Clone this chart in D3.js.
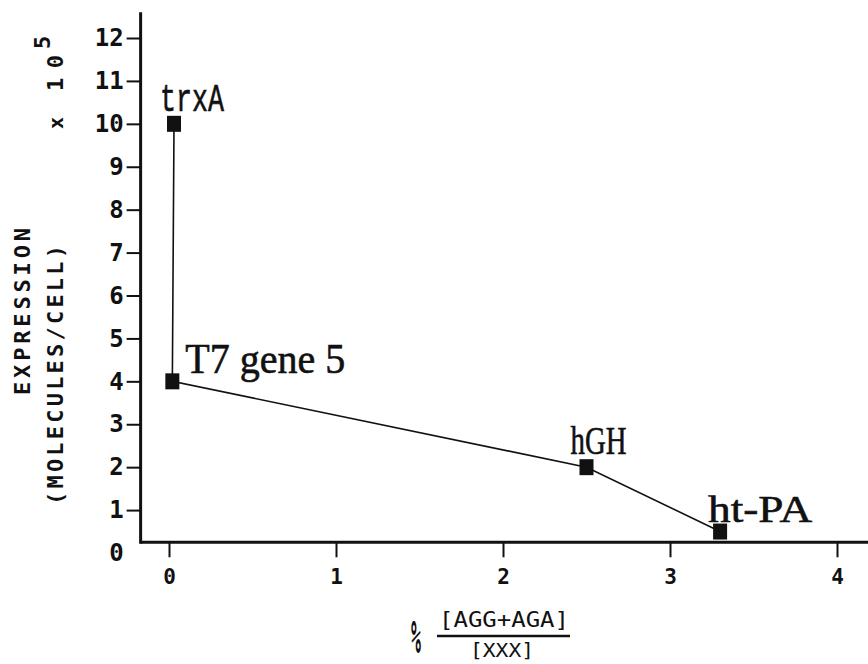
<!DOCTYPE html>
<html>
<head>
<meta charset="utf-8">
<script src="https://cdn.jsdelivr.net/npm/d3@7"></script>
<style>
  body { margin: 0; background: #fff; }
  svg { display: block; }
</style>
</head>
<body>
<svg width="868" height="664"></svg>
<script>
// data
var genes = ["trxA", "T7 gene 5", "hGH", "ht-PA"];
var ratio = [0.03, 0.02, 2.5, 3.3];          // % [AGG+AGA]/[XXX]
var expression = [10, 4, 2, 0.5];            // molecules/cell x 10^5
var xTicks = [0, 1, 2, 3, 4];
var yTicks = [0, 1, 2, 3, 4, 5, 6, 7, 8, 9, 10, 11, 12];

var svg = d3.select("svg");

var x = d3.scaleLinear().domain([0, 4]).range([169, 837]);
var y = d3.scaleLinear().domain([0, 12]).range([553, 38]);

// where the axes cross (the x axis sits a little above zero in the original)
var xAxisY = y(0.25), yAxisX = x(-0.17);

var monoBold = "'DejaVu Sans Mono', monospace";

// y axis
var gy = svg.append("g")
    .attr("transform", "translate(" + yAxisX + ",0)")
    .call(d3.axisLeft(y).tickValues(yTicks).tickFormat(d3.format("d"))
      .tickSize(14).tickPadding(3).tickSizeOuter(0));
gy.select(".domain").remove();
gy.selectAll(".tick line").attr("stroke", "#111").attr("stroke-width", 2)
    .filter(function(d) { return d === 0; }).remove();
gy.selectAll(".tick text")
    .style("font-family", monoBold).style("font-weight", "bold")
    .style("font-size", "24px").attr("fill", "#111");

// x axis
var gx = svg.append("g")
    .attr("transform", "translate(0," + xAxisY + ")")
    .call(d3.axisBottom(x).tickValues(xTicks).tickFormat(d3.format("d"))
      .tickSize(15).tickPadding(12).tickSizeOuter(0));
gx.select(".domain").remove();
gx.selectAll(".tick line").attr("stroke", "#111").attr("stroke-width", 2);
gx.selectAll(".tick text")
    .style("font-family", monoBold).style("font-weight", "bold")
    .style("font-size", "21px").attr("fill", "#111");

// axis lines
svg.append("line")
    .attr("x1", yAxisX).attr("x2", yAxisX)
    .attr("y1", y(12.6)).attr("y2", xAxisY + 1.5)
    .attr("stroke", "#111").attr("stroke-width", 3);
svg.append("line")
    .attr("x1", yAxisX).attr("x2", x(4.2))
    .attr("y1", xAxisY).attr("y2", xAxisY)
    .attr("stroke", "#111").attr("stroke-width", 3);

// connecting line
var pts = genes.map(function(g, i) { return [ratio[i], expression[i]]; });
svg.append("path")
    .datum(pts)
    .attr("fill", "none").attr("stroke", "#111").attr("stroke-width", 1.6)
    .attr("d", d3.line().x(function(d) { return x(d[0]); }).y(function(d) { return y(d[1]); }));

// square markers
svg.selectAll("rect.pt")
    .data(pts).enter().append("rect")
    .attr("class", "pt")
    .attr("x", function(d) { return x(d[0]) - 7; })
    .attr("y", function(d) { return y(d[1]) - 8; })
    .attr("width", 14).attr("height", 16)
    .attr("fill", "#111");

// point labels
var labelStyle = [
  { dx: -14, dy: -13, len: 64, font: "'Liberation Mono', monospace", size: 38 },
  { dx: 13, dy: -8, len: 160, font: "'Liberation Serif', serif", size: 42 },
  { dx: -16, dy: -13, len: 56, font: "'Liberation Serif', serif", size: 40 },
  { dx: -12, dy: -10, len: 104, font: "'Liberation Serif', serif", size: 38 }
];
svg.selectAll("text.lab")
    .data(pts).enter().append("text")
    .attr("class", "lab")
    .attr("x", function(d, i) { return x(d[0]) + labelStyle[i].dx; })
    .attr("y", function(d, i) { return y(d[1]) + labelStyle[i].dy; })
    .attr("textLength", function(d, i) { return labelStyle[i].len; })
    .attr("lengthAdjust", "spacingAndGlyphs")
    .style("font-family", function(d, i) { return labelStyle[i].font; })
    .style("font-size", function(d, i) { return labelStyle[i].size + "px"; })
    .attr("fill", "#111")
    .attr("stroke", "#111").attr("stroke-width", 0.6)
    .text(function(d, i) { return genes[i]; });

// y axis title (rotated)
function vtext(px, py, str, len, size) {
  var t = svg.append("text")
      .attr("transform", "translate(" + px + "," + py + ") rotate(-90)")
      .style("font-family", monoBold).style("font-weight", "bold")
      .style("font-size", size + "px").attr("fill", "#111")
      .text(str);
  if (len) t.attr("textLength", len).attr("lengthAdjust", "spacing");
  return t;
}
vtext(30, 395, "EXPRESSION", 167, 22);
vtext(63, 505, "(MOLECULES/CELL)", 260, 22);
vtext(63, 129, "x", null, 20);
vtext(63, 91, "10", 36, 22);
vtext(50, 49, "5", null, 22);

// x axis title: % [AGG+AGA] / [XXX]
svg.append("text")
    .attr("transform", "translate(416,653) scale(0.75,2.1)")
    .attr("text-anchor", "middle")
    .style("font-family", monoBold).style("font-weight", "bold")
    .style("font-size", "22px").attr("fill", "#111")
    .text("%");
svg.append("text")
    .attr("x", 439).attr("y", 627)
    .attr("textLength", 130).attr("lengthAdjust", "spacingAndGlyphs")
    .style("font-family", "'DejaVu Sans Mono', monospace")
    .style("font-size", "22px").attr("fill", "#111")
    .text("[AGG+AGA]");
svg.append("line")
    .attr("x1", 437).attr("x2", 570).attr("y1", 636).attr("y2", 636)
    .attr("stroke", "#111").attr("stroke-width", 2.5);
svg.append("text")
    .attr("x", 470).attr("y", 657)
    .attr("textLength", 64).attr("lengthAdjust", "spacingAndGlyphs")
    .style("font-family", "'DejaVu Sans Mono', monospace")
    .style("font-size", "20px").attr("fill", "#111")
    .text("[XXX]");
</script>
</body>
</html>
